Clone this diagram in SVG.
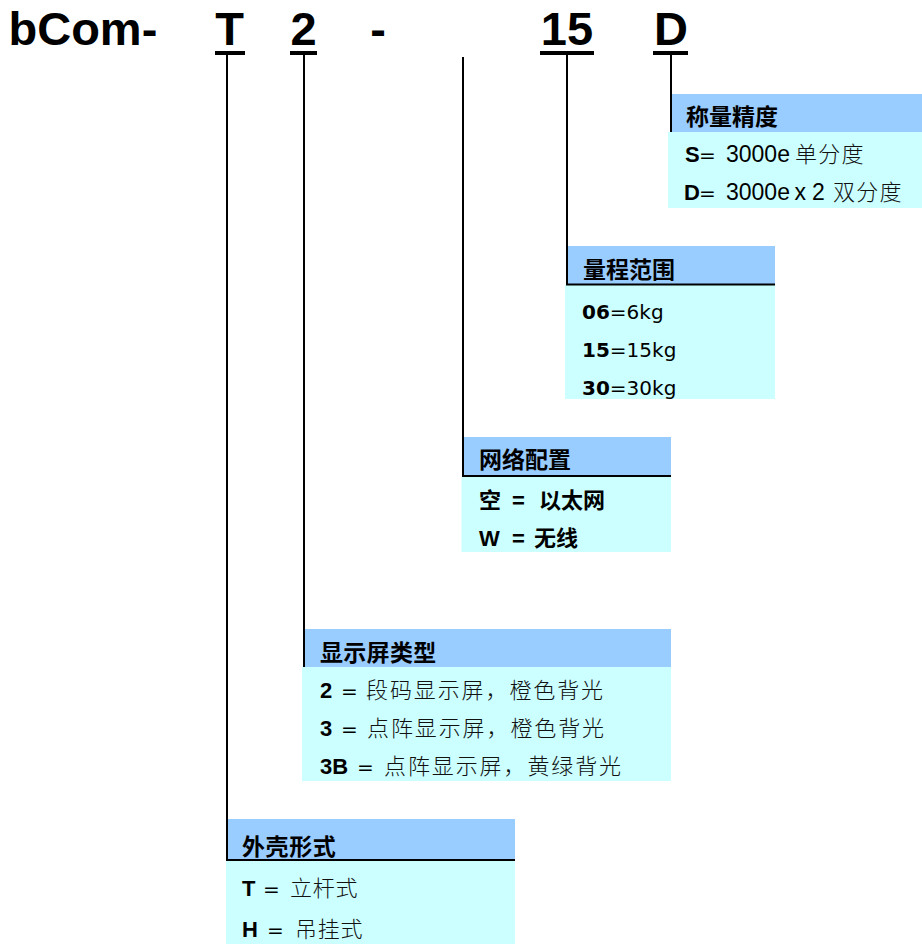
<svg xmlns="http://www.w3.org/2000/svg" width="922" height="944" viewBox="0 0 922 944">
<style>
  .title{font-family:"Liberation Sans",Arial,sans-serif;font-weight:bold;font-size:47px;fill:#000}
  .hdr{fill:#99CCFF}
  .body{fill:#CCFFFF}
  .h{font-family:"Liberation Sans","Noto Sans CJK SC",sans-serif;font-weight:bold;font-size:23px;fill:#000}
  .r{font-family:"Liberation Sans","Noto Sans CJK SC",sans-serif;font-weight:bold;font-size:22px;fill:#000}
  .lat{font-family:"Liberation Sans","Noto Sans CJK SC",sans-serif;font-size:22px;fill:#000}
  .eq{font-family:"DejaVu Sans",sans-serif;font-size:20px;font-weight:normal}
  .b{font-weight:bold}
  .cjk{font-family:"Noto Sans CJK SC",sans-serif;font-size:22px;font-weight:300;fill:#111}
  .dv{font-family:"DejaVu Sans",sans-serif;font-size:20px;fill:#000}
  .ln{stroke:#000;stroke-width:2;fill:none}
  .ul{fill:#000}
</style>

<g id="title">
  <text class="title" x="8.5" y="45">bCom-</text>
  <text class="title" x="229.5" y="45" text-anchor="middle">T</text>
  <text class="title" x="303.5" y="45" text-anchor="middle">2</text>
  <text class="title" x="378" y="45" text-anchor="middle">-</text>
  <text class="title" x="567" y="45" text-anchor="middle">15</text>
  <text class="title" x="671" y="45" text-anchor="middle">D</text>
  <rect class="ul" x="215" y="51" width="30" height="4"/>
  <rect class="ul" x="290" y="51" width="27" height="4"/>
  <rect class="ul" x="540" y="51" width="54" height="4"/>
  <rect class="ul" x="653" y="51" width="35" height="4"/>
</g>

<g id="node-accuracy">
  <rect class="hdr" x="671" y="94" width="251" height="38"/>
  <rect class="body" x="668" y="132" width="254" height="76"/>
  <text class="h" x="686" y="125">称量精度</text>
  <text class="lat" y="162"><tspan class="b" x="685">S</tspan><tspan class="eq" x="699" font-size="21">=</tspan><tspan x="726" font-size="23">3000e</tspan></text>
  <text class="cjk" x="795" y="162" letter-spacing="1.3">单分度</text>
  <text class="lat" y="200"><tspan class="b" x="684">D</tspan><tspan class="eq" x="699" font-size="21">=</tspan><tspan x="726" font-size="23">3000e</tspan><tspan x="794.5" font-size="23">x</tspan><tspan x="812" font-size="23">2</tspan></text>
  <text class="cjk" x="833" y="200" letter-spacing="1.3">双分度</text>
</g>

<g id="node-range">
  <rect class="hdr" x="567" y="246" width="208" height="38"/>
  <rect class="body" x="565" y="285" width="210" height="114"/>
  <text class="h" x="583" y="278">量程范围</text>
  <text class="dv" x="582" y="319"><tspan font-weight="bold">06</tspan>=6kg</text>
  <text class="dv" x="582" y="357"><tspan font-weight="bold">15</tspan>=15kg</text>
  <text class="dv" x="582" y="395"><tspan font-weight="bold">30</tspan>=30kg</text>
</g>

<g id="node-network">
  <rect class="hdr" x="463" y="437" width="208" height="39"/>
  <rect class="body" x="461.5" y="477" width="209.5" height="75"/>
  <text class="h" x="479" y="468">网络配置</text>
  <text class="r" y="508"><tspan x="479">空</tspan><tspan x="512">=</tspan><tspan x="539">以太网</tspan></text>
  <text class="r" y="546"><tspan x="479">W</tspan><tspan x="512">=</tspan><tspan x="534">无线</tspan></text>
</g>

<g id="node-display">
  <rect class="hdr" x="304" y="629" width="367" height="38"/>
  <rect class="body" x="302" y="667" width="369" height="114"/>
  <text class="h" x="320" y="661" letter-spacing="0.3">显示屏类型</text>
  <text class="lat" y="698"><tspan class="b" x="320">2</tspan><tspan class="eq" x="341">=</tspan></text>
  <text class="cjk" x="366" y="698" letter-spacing="1.9">段码显示屏，橙色背光</text>
  <text class="lat" y="736"><tspan class="b" x="320">3</tspan><tspan class="eq" x="341">=</tspan></text>
  <text class="cjk" x="367" y="736" letter-spacing="1.9">点阵显示屏，橙色背光</text>
  <text class="lat" y="774"><tspan class="b" x="320">3B</tspan><tspan class="eq" x="357">=</tspan></text>
  <text class="cjk" x="384" y="774" letter-spacing="1.9">点阵显示屏，黄绿背光</text>
</g>

<g id="node-housing">
  <rect class="hdr" x="227" y="819" width="288" height="41"/>
  <rect class="body" x="226" y="861" width="289" height="83"/>
  <text class="h" x="242" y="855" letter-spacing="0.6">外壳形式</text>
  <text class="lat" y="896"><tspan class="b" x="242">T</tspan><tspan class="eq" x="263">=</tspan></text>
  <text class="cjk" x="290" y="896" letter-spacing="0.7">立杆式</text>
  <text class="lat" y="937"><tspan class="b" x="242">H</tspan><tspan class="eq" x="267">=</tspan></text>
  <text class="cjk" x="295" y="937" letter-spacing="0.7">吊挂式</text>
</g>

<g id="connectors">
  <line class="ln" x1="227" y1="55" x2="227" y2="860"/>
  <line class="ln" x1="226" y1="860" x2="515" y2="860"/>
  <line class="ln" x1="304" y1="55" x2="304" y2="667"/>
  <line class="ln" x1="463" y1="57" x2="463" y2="476"/>
  <line class="ln" x1="462" y1="476" x2="671" y2="476"/>
  <line class="ln" x1="567" y1="55" x2="567" y2="285"/>
  <line class="ln" x1="566" y1="284.5" x2="775" y2="284.5" stroke-width="2.5"/>
  <line class="ln" x1="671" y1="55" x2="671" y2="132"/>
</g>
</svg>
